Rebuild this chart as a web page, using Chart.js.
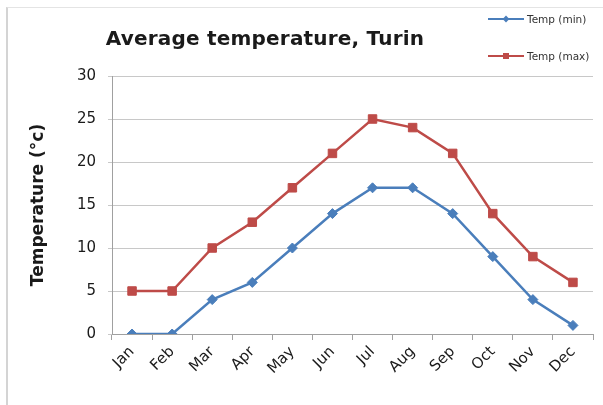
<!DOCTYPE html>
<html>
<head>
<meta charset="utf-8">
<script src="https://cdn.jsdelivr.net/npm/chart.js@4"></script>
<style>
  html, body { margin: 0; padding: 0; background: #fff; }
  #wrap { position: relative; width: 603px; height: 405px; overflow: hidden; }
  #frame { position: absolute; left: 6px; top: 7px; width: 620px; height: 420px; border-left: 2px solid #d4d4d4; border-top: 1px solid #e4e4e4; }
  #title { position: absolute; left: 98px; top: 26px; width: 334px; text-align: center; font: bold 20px "DejaVu Sans", Verdana, sans-serif; color: #1a1a1a; letter-spacing: 0.2px; }
  .lg { position: absolute; left: 488px; font: 10.5px "DejaVu Sans", sans-serif; color: #333; display: flex; align-items: center; }
  .lg .ln { position: relative; width: 36px; height: 2px; margin-right: 3px; }
  .lg .mk { position: absolute; left: 15px; top: -2px; width: 6px; height: 6px; }
  canvas { position: absolute; left: 0; top: 0; }
</style>
</head>
<body>
<div id="wrap">
  <div id="frame"></div>
  <canvas id="c" width="603" height="405"></canvas>
  <div id="title">Average temperature, Turin</div>
  <div id="legend"></div>
</div>
<script>
const categories = ["Jan","Feb","Mar","Apr","May","Jun","Jul","Aug","Sep","Oct","Nov","Dec"];
const tempMin = [0, 0, 4, 6, 10, 14, 17, 17, 14, 9, 4, 1];
const tempMax = [5, 5, 10, 13, 17, 21, 25, 24, 21, 14, 9, 6];
const seriesNames = ["Temp (min)", "Temp (max)"];
const yTitle = "Temperature (°c)";

const blue = "#4A7EBB";
const red = "#BE4B48";

// HTML legend
const lg = document.getElementById('legend');
[[seriesNames[0], blue, 13, true], [seriesNames[1], red, 50, false]].forEach(([name, col, top, diamond]) => {
  const d = document.createElement('div');
  d.className = 'lg';
  d.style.top = top + 'px';
  const ln = document.createElement('div');
  ln.className = 'ln';
  ln.style.background = col;
  const mk = document.createElement('div');
  mk.className = 'mk';
  mk.style.background = col;
  if (diamond) { mk.style.transform = 'rotate(45deg) scale(0.8)'; }
  ln.appendChild(mk);
  d.appendChild(ln);
  const t = document.createElement('span');
  t.textContent = name;
  d.appendChild(t);
  lg.appendChild(d);
});

new Chart(document.getElementById('c'), {
  type: 'line',
  data: {
    labels: categories,
    datasets: [
      { label: seriesNames[0], data: tempMin, borderColor: blue, backgroundColor: blue,
        borderWidth: 2.5, pointStyle: 'rectRot', pointRadius: 5, pointBorderWidth: 1, tension: 0 },
      { label: seriesNames[1], data: tempMax, borderColor: red, backgroundColor: red,
        borderWidth: 2.5, pointStyle: 'rect', pointRadius: 6, pointBorderWidth: 1, tension: 0 }
    ]
  },
  options: {
    responsive: false,
    animation: false,
    layout: { padding: { top: 76, right: 10, left: 28, bottom: 5 } },
    plugins: { legend: { display: false }, title: { display: false }, tooltip: { enabled: false } },
    scales: {
      x: {
        offset: true,
        grid: { display: true, drawOnChartArea: false, offset: true, tickLength: 6, color: '#a0a0a0' },
        border: { color: '#a0a0a0', width: 1 },
        ticks: { maxRotation: 45, minRotation: 45, color: '#1a1a1a', padding: 3,
                 font: { family: 'DejaVu Sans', size: 15 } },
        afterFit: (s) => { s.height = 66; }
      },
      y: {
        min: 0, max: 30,
        ticks: { stepSize: 5, color: '#1a1a1a', padding: 12, font: { family: 'DejaVu Sans', size: 15 } },
        grid: { color: '#c8c8c8', tickLength: 4, lineWidth: 1 },
        border: { color: '#a0a0a0', width: 1 },
        title: { display: true, text: yTitle, color: '#1a1a1a', padding: 0,
                 font: { family: 'DejaVu Sans', size: 17, weight: 'bold' } },
        afterFit: (s) => { s.width = 84; }
      }
    }
  }
});
</script>
</body>
</html>
